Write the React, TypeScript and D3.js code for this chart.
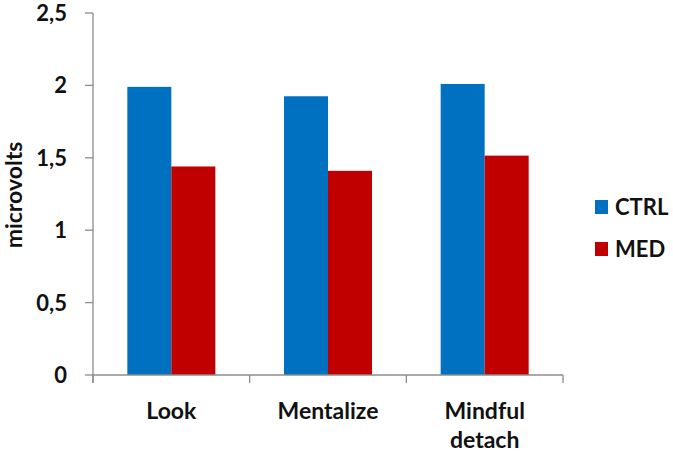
import React from "react";
import * as d3 from "d3";

const categories = ["Look", "Mentalize", "Mindful detach"];
const seriesNames = ["CTRL", "MED"];
const ctrlValues = [1.99, 1.925, 2.01];
const medValues = [1.44, 1.41, 1.515];
const yTickValues = [0, 0.5, 1, 1.5, 2, 2.5];
const seriesColors = ["#0070C0", "#C00000"];

const width = 673;
const height = 454;
const margin = { top: 13, right: 110, bottom: 79, left: 93 };
const font = "Lato, 'Open Sans', sans-serif";

export default function App() {
  const y = d3
    .scaleLinear()
    .domain([0, 2.5])
    .range([height - margin.bottom, margin.top]);

  const x0 = d3
    .scaleBand()
    .domain(categories)
    .range([margin.left, width - margin.right])
    .paddingInner(0)
    .paddingOuter(0);

  const x1 = d3
    .scaleBand()
    .domain(seriesNames)
    .range([0, x0.bandwidth()])
    .paddingInner(0)
    .paddingOuter(0.78);

  const seriesValues = [ctrlValues, medValues];
  const y0 = y(0);
  const axisColor = "#8c8c8c";
  const fmt = (d) => String(d).replace(".", ",");

  return (
    <svg
      width={width}
      height={height}
      style={{ position: "absolute", left: 0, top: 0, background: "#fff" }}
      fontFamily={font}
    >
      {/* bars */}
      {categories.map((cat, ci) => (
        <g key={cat} transform={`translate(${x0(cat)},0)`}>
          {seriesNames.map((s, si) => {
            const v = seriesValues[si][ci];
            return (
              <rect
                key={s}
                x={x1(s)}
                y={y(v)}
                width={x1.bandwidth()}
                height={y0 - y(v)}
                fill={seriesColors[si]}
              />
            );
          })}
        </g>
      ))}

      {/* y axis */}
      <line x1={margin.left} x2={margin.left} y1={y(2.5)} y2={y0 + 8} stroke={axisColor} strokeWidth={1.3} />
      {yTickValues.map((t) => (
        <g key={t}>
          <line x1={margin.left - 8} x2={margin.left} y1={y(t)} y2={y(t)} stroke={axisColor} strokeWidth={1.3} />
          <text
            x={margin.left - 26}
            y={y(t)}
            dy="0.36em"
            textAnchor="end"
            fontSize={22}
            fontWeight={700}
            fill="#111"
          >
            {fmt(t)}
          </text>
        </g>
      ))}

      {/* x axis */}
      <line x1={margin.left} x2={width - margin.right} y1={y0} y2={y0} stroke={axisColor} strokeWidth={1.3} />
      {categories.concat(["end"]).map((c, i) => {
        const xx = i < categories.length ? x0(c) : x0.range()[1];
        return (
          <line key={c} x1={xx} x2={xx} y1={y0} y2={y0 + 8} stroke={axisColor} strokeWidth={1.3} />
        );
      })}
      {categories.map((cat) => {
        const words = cat === "Mindful detach" ? ["Mindful", "detach"] : [cat];
        const cx = x0(cat) + x0.bandwidth() / 2;
        return (
          <text key={cat} textAnchor="middle" fontSize={23} fontWeight={700} fill="#111">
            {words.map((w, wi) => (
              <tspan key={w} x={cx} y={419 + wi * 29}>
                {w}
              </tspan>
            ))}
          </text>
        );
      })}

      {/* y axis title */}
      <text
        transform={`translate(22,${(y(2.5) + y0) / 2 + 1}) rotate(-90)`}
        textAnchor="middle"
        fontSize={23}
        fontWeight={700}
        fill="#111"
      >
        microvolts
      </text>

      {/* legend */}
      {seriesNames.map((s, si) => (
        <g key={s} transform={`translate(595,${207 + si * 42})`}>
          <rect x={0} y={-7} width={13} height={14} fill={seriesColors[si]} />
          <text x={20} y={0} dy="0.36em" fontSize={22} fontWeight={700} fill="#111">
            {s}
          </text>
        </g>
      ))}
    </svg>
  );
}
